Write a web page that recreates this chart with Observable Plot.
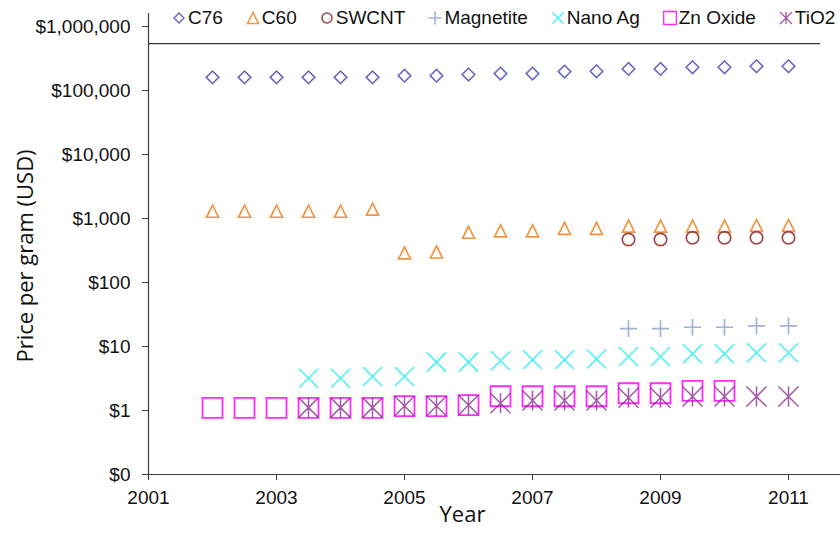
<!DOCTYPE html>
<html>
<head>
<meta charset="utf-8">
<script src="https://cdn.jsdelivr.net/npm/d3@7"></script>
<script src="https://cdn.jsdelivr.net/npm/@observablehq/plot@0.6"></script>
<style>
  html, body { margin: 0; padding: 0; background: #fff; }
  #wrap { position: relative; width: 840px; height: 533px; overflow: hidden; }
  #legend { position: absolute; top: 6px; left: 172px; display: flex; gap: 23px;
            font-family: "Liberation Sans", Arial, sans-serif; font-size: 19px; line-height: 24px; color: #111; }
  .item { display: flex; align-items: center; }
  .item svg { display: block; margin-right: 2px; }
</style>
</head>
<body>
<div id="wrap"><div id="legend"></div></div>
<script>
// ---- data ----
const seriesNames = ["C76", "C60", "SWCNT", "Magnetite", "Nano Ag", "Zn Oxide", "TiO2"];

const yearsC76 = [2002, 2002.5, 2003, 2003.5, 2004, 2004.5, 2005, 2005.5, 2006, 2006.5, 2007, 2007.5, 2008, 2008.5, 2009, 2009.5, 2010, 2010.5, 2011];
const valuesC76 = [161000, 161000, 161000, 161000, 161000, 161000, 171000, 171000, 178000, 184000, 184000, 198000, 200000, 218000, 218000, 231000, 231000, 240000, 240000];

const yearsC60 = [2002, 2002.5, 2003, 2003.5, 2004, 2004.5, 2005, 2005.5, 2006, 2006.5, 2007, 2007.5, 2008, 2008.5, 2009, 2009.5, 2010, 2010.5, 2011];
const valuesC60 = [1300, 1300, 1300, 1300, 1300, 1400, 290, 300, 610, 640, 640, 700, 700, 760, 760, 760, 760, 780, 780];

const yearsSWCNT = [2008.5, 2009, 2009.5, 2010, 2010.5, 2011];
const valuesSWCNT = [470, 470, 500, 500, 500, 500];

const yearsMagnetite = [2008.5, 2009, 2009.5, 2010, 2010.5, 2011];
const valuesMagnetite = [19, 19, 20, 20, 21, 21];

const yearsNanoAg = [2003.5, 2004, 2004.5, 2005, 2005.5, 2006, 2006.5, 2007, 2007.5, 2008, 2008.5, 2009, 2009.5, 2010, 2010.5, 2011];
const valuesNanoAg = [3.2, 3.2, 3.4, 3.4, 5.7, 5.7, 6.0, 6.2, 6.2, 6.4, 7.0, 7.0, 7.7, 7.7, 8.0, 8.0];

const yearsZnOxide = [2002, 2002.5, 2003, 2003.5, 2004, 2004.5, 2005, 2005.5, 2006, 2006.5, 2007, 2007.5, 2008, 2008.5, 2009, 2009.5, 2010];
const valuesZnOxide = [1.10, 1.10, 1.10, 1.10, 1.10, 1.10, 1.17, 1.17, 1.21, 1.67, 1.67, 1.67, 1.67, 1.86, 1.86, 2.02, 2.02];

const yearsTiO2 = [2003.5, 2004, 2004.5, 2005, 2005.5, 2006, 2006.5, 2007, 2007.5, 2008, 2008.5, 2009, 2009.5, 2010, 2010.5, 2011];
const valuesTiO2 = [1.11, 1.11, 1.11, 1.18, 1.18, 1.22, 1.30, 1.43, 1.43, 1.43, 1.58, 1.58, 1.65, 1.65, 1.65, 1.65];

const xTicks = [2001, 2003, 2005, 2007, 2009, 2011];
const yTicks = [0.1, 1, 10, 100, 1000, 10000, 100000, 1000000];
const yTitle = "Price per gram (USD)";
const xTitle = "Year";
const topLine = [{value: 540000, start: 2001, end: 2011.5}];

// ---- symbols (styles) ----
function mk(fn) { return {draw(c, size) { fn(c, Math.sqrt(size / Math.PI)); }}; }
const SYM = {
  diamond: mk((c, r) => { c.moveTo(0, -r); c.lineTo(r, 0); c.lineTo(0, r); c.lineTo(-r, 0); c.closePath(); }),
  triangle: mk((c, r) => { c.moveTo(0, -r); c.lineTo(r, r); c.lineTo(-r, r); c.closePath(); }),
  circle: mk((c, r) => { c.moveTo(r, 0); c.arc(0, 0, r, 0, 2 * Math.PI); }),
  plus: mk((c, r) => { c.moveTo(-r, 0); c.lineTo(r, 0); c.moveTo(0, -r); c.lineTo(0, r); }),
  times: mk((c, r) => { c.moveTo(-r, -r); c.lineTo(r, r); c.moveTo(-r, r); c.lineTo(r, -r); }),
  square: mk((c, r) => { c.moveTo(-r, -r); c.lineTo(r, -r); c.lineTo(r, r); c.lineTo(-r, r); c.closePath(); }),
  asterisk: mk((c, r) => { c.moveTo(-r, -r); c.lineTo(r, r); c.moveTo(-r, r); c.lineTo(r, -r); c.moveTo(0, -r); c.lineTo(0, r); })
};

const styles = [
  {sym: "diamond", r: 6.3, lr: 5, color: "#6b6bbf", sw: 1.6, op: 1},
  {sym: "triangle", r: 6, lr: 5.5, color: "#f59440", sw: 1.7, op: 1},
  {sym: "circle", r: 6.2, lr: 5, color: "#9e4547", sw: 1.7, op: 1},
  {sym: "plus", r: 8.5, lr: 6.5, color: "#9fb3d9", sw: 1.7, op: 1},
  {sym: "times", r: 9.5, lr: 5.5, color: "#40f4f4", sw: 1.5, op: 1},
  {sym: "square", r: 10, lr: 6.5, color: "#ff2bff", sw: 1.8, op: 1},
  {sym: "asterisk", r: 10, lr: 6, color: "#8e3090", sw: 1.5, op: 0.8}
];

const yearsList = [yearsC76, yearsC60, yearsSWCNT, yearsMagnetite, yearsNanoAg, yearsZnOxide, yearsTiO2];
const valuesList = [valuesC76, valuesC60, valuesSWCNT, valuesMagnetite, valuesNanoAg, valuesZnOxide, valuesTiO2];

const dotMarks = seriesNames.map((name, i) => {
  const rows = yearsList[i].map((yr, j) => ({year: yr, value: valuesList[i][j], series: name}));
  const s = styles[i];
  return Plot.dot(rows, {x: "year", y: "value", symbol: SYM[s.sym], r: s.r, stroke: s.color,
    strokeWidth: s.sw, strokeOpacity: s.op, fill: "none"});
});

const axisColor = "#3a3a3a";
const chart = Plot.plot({
  width: 840,
  height: 533,
  marginLeft: 148,
  marginRight: 0,
  marginTop: 13,
  marginBottom: 59,
  style: {fontFamily: "'Liberation Sans', Arial, sans-serif", fontSize: "19px", color: "#111", background: "#fff"},
  x: {domain: [2001, 2012], range: [148, 852]},
  y: {type: "log", domain: [0.1, 1.6e6]},
  marks: [
    Plot.axisY(yTicks, {tickSize: 6, tickPadding: 12, stroke: axisColor, tickFormat: v => "$" + d3.format(",")(Math.round(v)), label: null, fontSize: 19}),
    Plot.axisX(xTicks, {tickSize: 6, tickPadding: 10, stroke: axisColor, tickFormat: d => String(d), label: null, fontSize: 19}),
    Plot.ruleY(topLine, {y: "value", x1: "start", x2: "end", stroke: axisColor, strokeWidth: 1.2}),
    Plot.ruleX([2001], {stroke: axisColor, strokeWidth: 1.2}),
    Plot.ruleY([0.1], {stroke: axisColor, strokeWidth: 1.2}),
    ...dotMarks,
    Plot.text([yTitle], {frameAnchor: "left", textAnchor: "middle", dx: -123, dy: 12, rotate: -90, fontSize: 22, fontFamily: "'Open Sans', sans-serif", fill: "#111"}),
    Plot.text([xTitle], {frameAnchor: "bottom", textAnchor: "middle", dx: -32, dy: 47, fontSize: 22, fontFamily: "'Open Sans', sans-serif", fill: "#111"})
  ]
});
document.getElementById("wrap").prepend(chart);

// legend
const legend = document.getElementById("legend");
seriesNames.forEach((name, i) => {
  const s = styles[i];
  const item = document.createElement("div");
  item.className = "item";
  const p = d3.path();
  SYM[s.sym].draw(p, Math.PI * s.lr * s.lr);
  item.innerHTML = `<svg width="14" height="24" viewBox="-7 -12 14 24"><path d="${p.toString()}" fill="none" stroke="${s.color}" stroke-width="${s.sw * 0.9}" stroke-opacity="${s.op}"/></svg><span>${name}</span>`;
  legend.appendChild(item);
});
</script>
</body>
</html>
